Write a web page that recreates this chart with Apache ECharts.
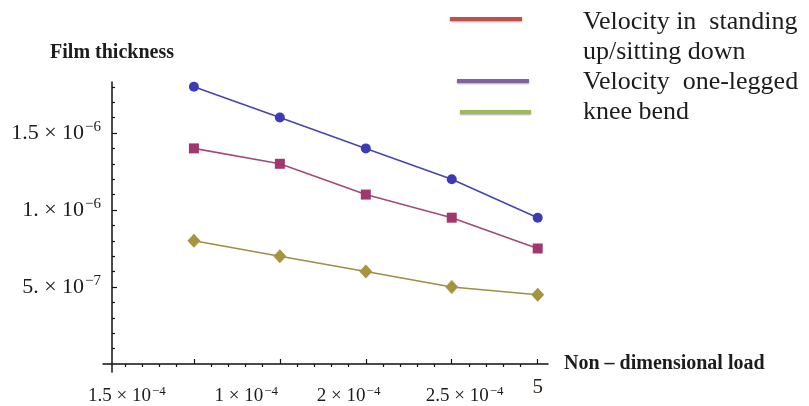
<!DOCTYPE html>
<html>
<head>
<meta charset="utf-8">
<script src="https://cdn.jsdelivr.net/npm/echarts@6/dist/echarts.min.js"></script>
<style>
  html, body { margin: 0; padding: 0; background: #ffffff; }
  #chart { width: 809px; height: 406px; }
</style>
</head>
<body>
<div id="chart"></div>
<script>
// Load steps along the horizontal axis
const loadSteps = [1, 2, 3, 4, 5];

// Film thickness for each curve
const filmCircle  = [1.8e-6, 1.6e-6, 1.4e-6, 1.2e-6, 0.95e-6];
const filmSquare  = [1.4e-6, 1.3e-6, 1.1e-6, 0.95e-6, 0.75e-6];
const filmDiamond = [0.8e-6, 0.7e-6, 0.6e-6, 0.5e-6, 0.45e-6];

// Vertical axis ticks and labels
const yMajorTicks = [5e-7, 1e-6, 1.5e-6];
const yTickMantissa = ['5.', '1.', '1.5'];
const yTickExponent = ['\u22127', '\u22126', '\u22126'];
const yMinorTicks = [1e-7, 2e-7, 3e-7, 4e-7, 6e-7, 7e-7, 8e-7, 9e-7,
                     1.1e-6, 1.2e-6, 1.3e-6, 1.4e-6, 1.6e-6, 1.7e-6, 1.8e-6];

// Horizontal axis ticks and labels
const xMajorTicks = [1, 2, 3, 4, 5];
const xMinorTicks = [0.2, 0.4, 0.6, 0.8, 1.2, 1.4, 1.6, 1.8, 2.2, 2.4, 2.6, 2.8,
                     3.2, 3.4, 3.6, 3.8, 4.2, 4.4, 4.6, 4.8];
const xTickMantissa = ['1.5', '1', '2', '2.5'];
const xTickExponent = ['\u22124', '\u22124', '\u22124', '\u22124'];
const xEndLabel = '5';

// Legend entries
const legendLines = ['#c0504d', '#8064a2', '#9bbb59'];
const legendText = ['Velocity in  standing', 'up/sitting down', 'Velocity  one-legged', 'knee bend'];

const SERIF = '"Liberation Serif", "DejaVu Serif", serif';
const INK = '#1c1c1c';

const X_MIN = -0.058, X_MAX = 5.12;
const Y_MIN = -0.052e-6, Y_MAX = 1.831e-6;
const xLabelAt = [0.22, 1.61, 2.80, 4.15];

function findIndex(list, v, tol) {
  for (let i = 0; i < list.length; i++) if (Math.abs(list[i] - v) < tol) return i;
  return -1;
}

const pair = (ys) => loadSteps.map((x, i) => [x, ys[i]]);

const chart = echarts.init(document.getElementById('chart'), null, { renderer: 'canvas' });

const legendGraphics = [];
const lineY = [19, 81, 112];
const lineX = [[450, 522], [457, 529], [460, 531]];
legendLines.forEach((c, i) => {
  legendGraphics.push({
    type: 'line', silent: true,
    shape: { x1: lineX[i][0], y1: lineY[i], x2: lineX[i][1], y2: lineY[i] },
    style: { stroke: c, lineWidth: 4, shadowBlur: 2, shadowOffsetY: 1, shadowColor: 'rgba(0,0,0,0.35)' }
  });
});
const textY = [22, 52, 82, 112];
legendText.forEach((t, i) => {
  legendGraphics.push({
    type: 'text', silent: true, x: 583, y: textY[i],
    style: { text: t, font: '26px ' + SERIF, fill: INK, textVerticalAlign: 'middle', textAlign: 'left' }
  });
});

const option = {
  animation: false,
  backgroundColor: '#ffffff',
  grid: { left: 103, right: 261, top: 82, bottom: 34, containLabel: false },
  xAxis: [
    {
      type: 'value', min: X_MIN, max: X_MAX,
      axisLine: { onZero: true, lineStyle: { color: '#111', width: 1.5 } },
      axisTick: { show: true, inside: true, length: 5, customValues: xMajorTicks, lineStyle: { color: '#111', width: 1.2 } },
      axisLabel: {
        show: true, customValues: [5], margin: 5,
        formatter: () => xEndLabel,
        fontFamily: SERIF, fontSize: 21, color: '#2a2018'
      },
      splitLine: { show: false },
      name: 'Non \u2013 dimensional load', nameLocation: 'end', nameGap: 16,
      nameTextStyle: { fontFamily: SERIF, fontSize: 20, fontWeight: 'bold', color: INK, verticalAlign: 'middle', padding: [0, 0, 4, 0] }
    },
    {
      type: 'value', min: X_MIN, max: X_MAX,
      axisLine: { onZero: true, lineStyle: { color: 'rgba(0,0,0,0)' } },
      axisTick: { show: true, inside: true, length: 3, customValues: xMinorTicks, lineStyle: { color: '#111', width: 1.2 } },
      axisLabel: { show: false },
      splitLine: { show: false }
    },
    {
      type: 'value', min: X_MIN, max: X_MAX, position: 'bottom',
      axisLine: { show: false, onZero: false },
      axisTick: { show: false },
      axisLabel: {
        show: true, customValues: xLabelAt, margin: 13,
        formatter: (v) => {
          const i = findIndex(xLabelAt, v, 1e-6);
          return i < 0 ? '' : '{m|' + xTickMantissa[i] + ' \u00d7 10}{e|' + xTickExponent[i] + '}';
        },
        rich: {
          m: { fontFamily: SERIF, fontSize: 19, color: INK },
          e: { fontFamily: SERIF, fontSize: 13, color: INK, padding: [0, 0, 9, 1] }
        }
      },
      splitLine: { show: false }
    }
  ],
  yAxis: [
    {
      type: 'value', min: Y_MIN, max: Y_MAX, offset: -9, position: 'left',
      axisLine: { onZero: false, lineStyle: { color: '#111', width: 1.5 } },
      axisTick: { show: true, inside: true, length: 5, customValues: yMajorTicks, lineStyle: { color: '#111', width: 1.2 } },
      axisLabel: {
        show: true, customValues: yMajorTicks, margin: 11,
        formatter: (v) => {
          const i = findIndex(yMajorTicks, v, 1e-9);
          return i < 0 ? '' : '{m|' + yTickMantissa[i] + ' \u00d7 10}{e|' + yTickExponent[i] + '}';
        },
        rich: {
          m: { fontFamily: SERIF, fontSize: 22, color: INK },
          e: { fontFamily: SERIF, fontSize: 15, color: INK, padding: [0, 0, 11, 1] }
        }
      },
      splitLine: { show: false },
      name: 'Film thickness', nameLocation: 'end', nameGap: 19,
      nameTextStyle: { fontFamily: SERIF, fontSize: 20, fontWeight: 'bold', color: INK, align: 'center' }
    },
    {
      type: 'value', min: Y_MIN, max: Y_MAX, offset: -9, position: 'left',
      axisLine: { onZero: false, lineStyle: { color: 'rgba(0,0,0,0)' } },
      axisTick: { show: true, inside: true, length: 3, customValues: yMinorTicks, lineStyle: { color: '#111', width: 1.2 } },
      axisLabel: { show: false },
      splitLine: { show: false }
    }
  ],
  series: [
    {
      name: 'circle', type: 'line', data: pair(filmCircle),
      symbol: 'circle', symbolSize: 10,
      itemStyle: { color: '#3b3bb3' },
      lineStyle: { color: '#4646b0', width: 1.6 }
    },
    {
      name: 'square', type: 'line', data: pair(filmSquare),
      symbol: 'rect', symbolSize: 10,
      itemStyle: { color: '#a0386f' },
      lineStyle: { color: '#a44a7a', width: 1.6 }
    },
    {
      name: 'diamond', type: 'line', data: pair(filmDiamond),
      symbol: 'diamond', symbolSize: [13, 14],
      itemStyle: { color: '#a8943f' },
      lineStyle: { color: '#a08c44', width: 1.6 }
    }
  ],
  graphic: legendGraphics
};

chart.setOption(option);
</script>
</body>
</html>
